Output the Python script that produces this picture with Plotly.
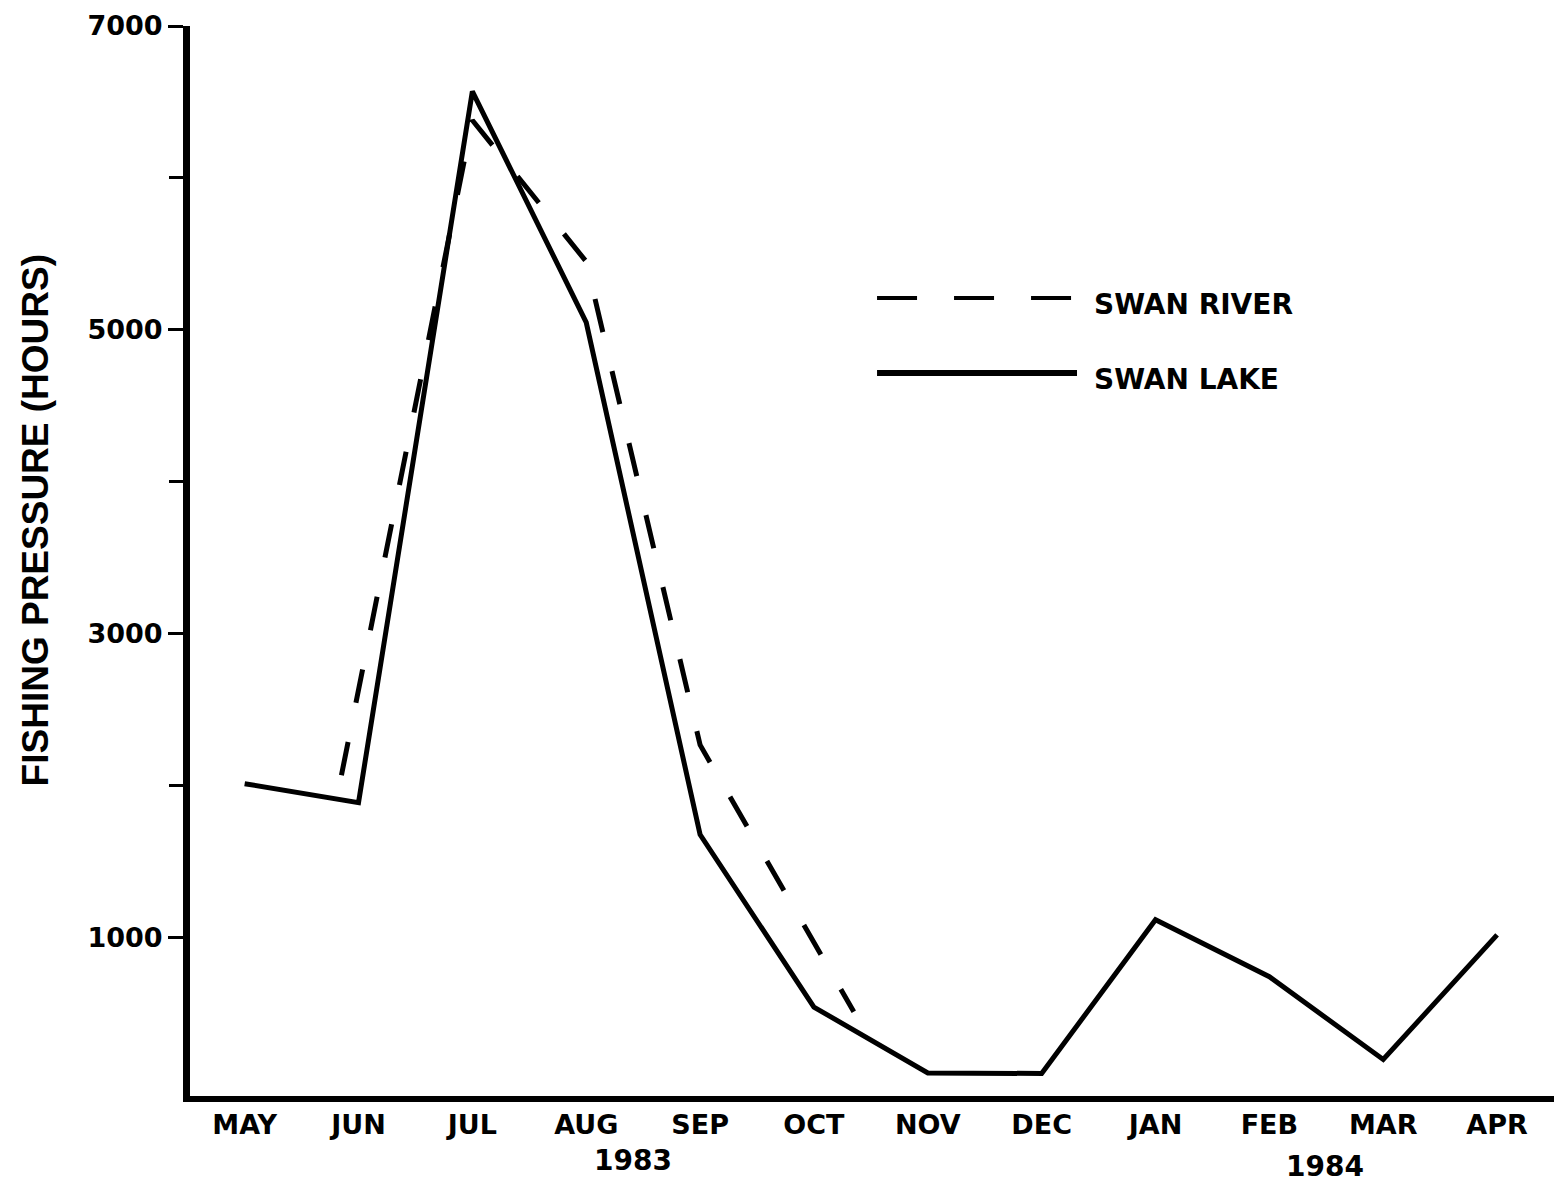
import plotly.graph_objects as go

# monthly fishing pressure (hours), May 1983 - Apr 1984
months = ["MAY", "JUN", "JUL", "AUG", "SEP", "OCT", "NOV", "DEC", "JAN", "FEB", "MAR", "APR"]
lake_hours = [2015, 1890, 6570, 5050, 1680, 545, 112, 108, 1120, 745, 200, 1020]

# Swan River only partly surveyed: positions are month index (0 = May)
river_pos = [0.85, 2, 3, 4, 5.35]
river_hours = [2070, 6380, 5450, 2270, 515]

y_major = [1000, 3000, 5000, 7000]
y_minor = [2000, 4000, 6000]
years = ["1983", "1984"]
year_pos = [3.41, 9.49]

BOLD = dict(family="DejaVu Sans", size=27, color="black", weight="bold")

fig = go.Figure()

fig.add_trace(go.Scatter(
    x=list(range(len(months))),
    y=lake_hours,
    mode="lines",
    name="SWAN LAKE",
    line=dict(color="black", width=5),
))
fig.add_trace(go.Scatter(
    x=river_pos,
    y=river_hours,
    mode="lines",
    name="SWAN RIVER",
    line=dict(color="black", width=5, dash="34px,40px"),
))

# hand drawn legend keys (long line samples)
fig.add_shape(type="line", xref="paper", yref="paper",
              x0=0.5037, x1=0.6488, y0=0.7458, y1=0.7458,
              line=dict(color="black", width=4, dash="40px,37px"))
fig.add_shape(type="line", xref="paper", yref="paper",
              x0=0.5037, x1=0.6503, y0=0.6757, y1=0.6757,
              line=dict(color="black", width=6))
fig.add_annotation(text="SWAN RIVER", xref="paper", yref="paper",
                   x=0.6613, y=0.7393, xanchor="left", yanchor="middle",
                   showarrow=False, font=dict(BOLD, size=28))
fig.add_annotation(text="SWAN LAKE", xref="paper", yref="paper",
                   x=0.6613, y=0.6692, xanchor="left", yanchor="middle",
                   showarrow=False, font=dict(BOLD, size=28))

# year labels under the month axis
for yr, pos, yy in zip(years, year_pos, [-0.06, -0.066]):
    fig.add_annotation(text=yr, xref="x", yref="paper", x=pos, y=yy,
                       xanchor="center", yanchor="middle", showarrow=False,
                       font=dict(BOLD, size=28))

# y axis title
fig.add_annotation(text="<b>FISHING PRESSURE (HOURS)</b>", xref="paper", yref="paper",
                   x=-0.1136, y=0.538, textangle=-90, showarrow=False,
                   xanchor="center", yanchor="middle",
                   font=dict(family="Liberation Sans", size=37, color="black"))

fig.update_layout(
    width=1554,
    height=1185,
    margin=dict(l=190, r=0, t=26, b=89),
    plot_bgcolor="white",
    paper_bgcolor="white",
    showlegend=False,
    xaxis=dict(
        range=[-0.48, 11.5],
        tickmode="array",
        tickvals=list(range(len(months))),
        ticktext=months,
        ticks="",
        showgrid=False,
        zeroline=False,
        showline=True,
        linecolor="black",
        linewidth=6,
        tickfont=BOLD,
    ),
    yaxis=dict(
        range=[-40, 7000],
        tickmode="array",
        tickvals=y_major,
        ticktext=[str(v) for v in y_major],
        ticks="outside",
        ticklen=15,
        tickwidth=3,
        tickcolor="black",
        minor=dict(tickmode="array", tickvals=y_minor, ticks="outside",
                   ticklen=14, tickwidth=3, tickcolor="black", showgrid=False),
        showgrid=False,
        zeroline=False,
        showline=True,
        linecolor="black",
        linewidth=7,
        tickfont=BOLD,
    ),
)

fig.write_html("out.html", config={"displayModeBar": False},
               post_script="document.body.style.margin='0';")
